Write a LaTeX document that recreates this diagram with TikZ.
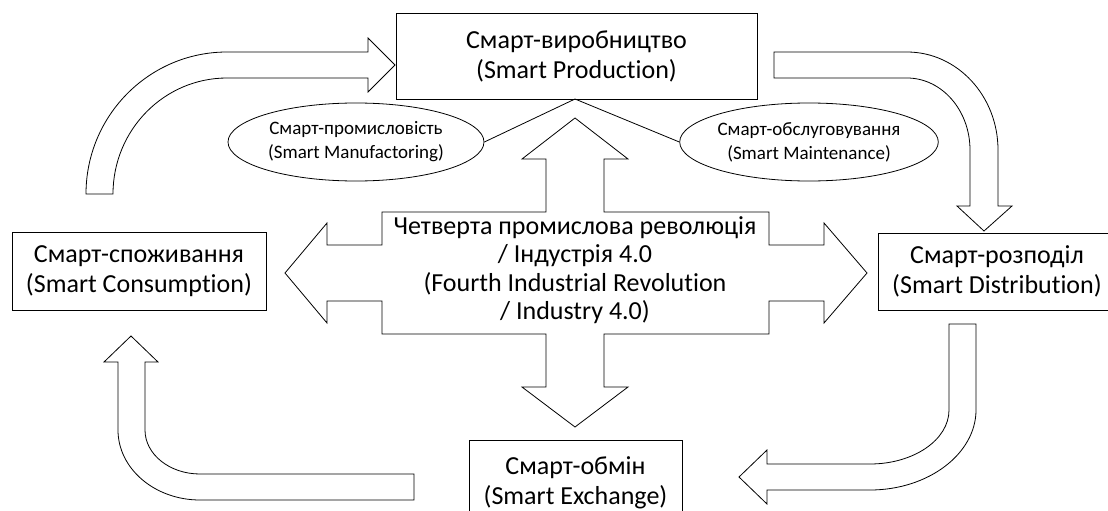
\documentclass[tikz,border=0pt]{standalone}
\usepackage{fontspec}
\setmainfont{Carlito}[Ligatures={NoCommon}]
\usetikzlibrary{shapes.geometric}
\begin{document}
\begin{tikzpicture}[x=1pt,y=-1pt,
  ln/.style={draw=black,line width=0.8pt},
  boxnode/.style={ln,rectangle,inner sep=0pt,align=center,font=\fontsize{26}{30}\selectfont},
  ellnode/.style={ln,ellipse,inner sep=0pt,align=center,font=\fontsize{19}{24}\selectfont},
  bigarrow/.style={ln,fill=white,line join=miter}]
\useasboundingbox[fill=white] (0,0) rectangle (1108,511);

% central quad arrow
\draw[bigarrow] (382,212) -- (546,212) -- (546,159) -- (522,159) -- (575,118) -- (628,159) -- (604,159) -- (604,212)
  -- (769,212) -- (769,245) -- (824,245) -- (824,223) -- (867,273) -- (824,323) -- (824,301) -- (769,301) -- (769,334)
  -- (604,334) -- (604,387) -- (628,387) -- (575,427) -- (522,387) -- (546,387) -- (546,334)
  -- (382,334) -- (382,301) -- (327,301) -- (327,323) -- (285,273) -- (327,223) -- (327,245) -- (382,245) -- cycle;
\node[align=center,font=\fontsize{26}{28.5}\selectfont,inner sep=0pt] (core) at (575,270)
  {Четверта промислова революція\\/ Індустрія 4.0\\(Fourth Industrial Revolution\\/ Industry 4.0)};

% boxes
\node[boxnode,minimum width=361pt,minimum height=86pt] (prod) at (576.5,56) {Смарт-виробництво\\(Smart Production)};
\node[boxnode,minimum width=254pt,minimum height=78pt] (cons) at (139,271) {Смарт-споживання\\(Smart Consumption)};
\node[boxnode,minimum width=238pt,minimum height=77pt] (dist) at (997,271.5) {Смарт-розподіл\\(Smart Distribution)};
\node[boxnode,minimum width=213pt,minimum height=86pt] (exch) at (575.5,483) {Смарт-обмін\\(Smart Exchange)};

% ellipses
\node[ellnode,minimum width=256pt,minimum height=78pt] (manuf) at (356,142) {Смарт-промисловість\\(Smart Manufactoring)};
\node[ellnode,minimum width=258pt,minimum height=78pt] (maint) at (809,142) {Смарт-обслуговування\\(Smart Maintenance)};
\coordinate (j) at (575,99);
\draw[ln] (manuf.east) -- (j) -- (maint.west);

% curved arrows
\draw[bigarrow] (86,194) .. controls (86,115.6) and (149.1,52) .. (227,52) -- (368,52) -- (368,38) -- (395,65) -- (368,92)
  -- (368,78) -- (227,78) .. controls (164,78) and (113,130) .. (113,194) -- cycle;
\draw[bigarrow] (774,52) -- (907,52) .. controls (957.2,52) and (998,95.9) .. (998,150) -- (998,206) -- (1012,206)
  -- (984,231) -- (957,206) -- (970,206) -- (970,150) .. controls (970,110.3) and (941.8,78) .. (907,78) -- (774,78) -- cycle;
\draw[bigarrow] (976,324) -- (976,410) .. controls (976,453.6) and (928.5,490) .. (870,490) -- (767,490) -- (767,504)
  -- (739,477) -- (767,450) -- (767,464) -- (870,464) .. controls (913.6,464) and (949,439.8) .. (949,410) -- (949,324) -- cycle;
\draw[bigarrow] (414,500) -- (200,500) .. controls (154.7,500) and (118,468.6) .. (118,430) -- (118,362) -- (104,362)
  -- (131,336) -- (158,362) -- (145,362) -- (145,430) .. controls (145,454.3) and (169.6,474) .. (200,474) -- (414,474) -- cycle;
\end{tikzpicture}
\end{document}
